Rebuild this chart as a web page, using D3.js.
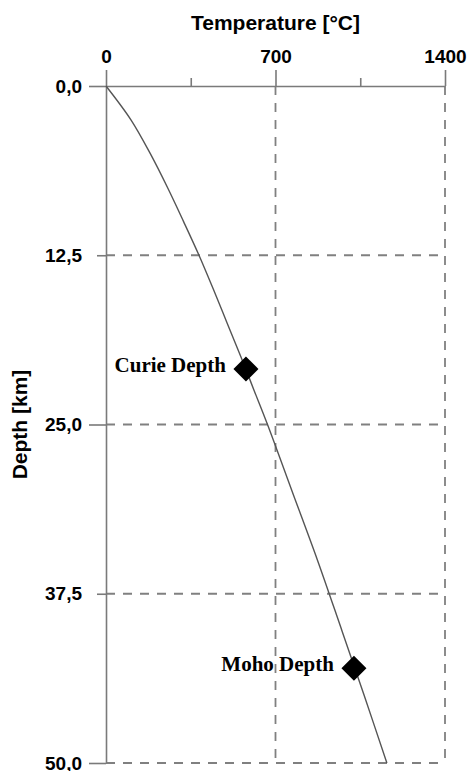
<!DOCTYPE html>
<html>
<head>
<meta charset="utf-8">
<script src="https://cdn.jsdelivr.net/npm/d3@7"></script>
<style>
	body { margin: 0; background: #fff; }
	svg { display: block; }
	.axis text { font-family: "Liberation Sans", Arial, sans-serif; font-weight: bold; font-size: 19px; fill: #000; }
	.axis path, .axis line { stroke: #7a7a7a; stroke-width: 1.6; }
	.grid line { stroke: #808080; stroke-width: 1.8; stroke-dasharray: 9,8; }
	.title { font-family: "Liberation Sans", Arial, sans-serif; font-weight: bold; font-size: 21px; }
	.marker text { font-family: "Liberation Serif", "Times New Roman", serif; font-weight: bold; font-size: 21px; }
</style>
</head>
<body>
<script>
// geotherm
const depth = [0, 2.5, 5, 7.5, 10, 12.5, 15, 17.5, 20, 22.5, 25, 30, 35, 40, 45, 50];
const temperature = [0, 103, 183, 254, 320, 384, 443, 500, 557, 612, 667, 770, 873, 970, 1066, 1160];

const markerLabels = ["Curie Depth", "Moho Depth"];
const markerDepth = [20.9, 43.0];
const markerTemperature = [578, 1024];

const tempTicks = [0, 350, 700, 1050, 1400];
const tempLabels = ["0", "", "700", "", "1400"];
const depthTicks = [0, 12.5, 25, 37.5, 50];
const depthLabels = ["0,0", "12,5", "25,0", "37,5", "50,0"];

const width = 469, height = 771;
const margin = { top: 86, right: 24, bottom: 8, left: 106 };
const innerWidth = width - margin.left - margin.right;
const innerHeight = height - margin.top - margin.bottom;

const x = d3.scaleLinear().domain([0, 1400]).range([0, innerWidth]);
const y = d3.scaleLinear().domain([0, 50]).range([0, innerHeight]);

let svg = d3.select("body")
	.append("svg")
		.attr("width", width)
		.attr("height", height);

let chart = svg.append("g")
	.attr("transform", `translate(${margin.left}, ${margin.top})`);

// dashed grid
let grid = chart.append("g").attr("class", "grid");
grid.selectAll("line.v")
	.data([700, 1400])
	.enter()
	.append("line")
		.attr("class", "v")
		.attr("x1", d => x(d))
		.attr("x2", d => x(d))
		.attr("y1", 0)
		.attr("y2", innerHeight);
grid.selectAll("line.h")
	.data([12.5, 25, 37.5, 50])
	.enter()
	.append("line")
		.attr("class", "h")
		.attr("x1", 0)
		.attr("x2", innerWidth)
		.attr("y1", d => y(d))
		.attr("y2", d => y(d));

// top axis
let axisX = chart.append("g")
	.attr("class", "axis x")
	.call(d3.axisTop(x)
		.tickValues(tempTicks)
		.tickSize(16)
		.tickSizeOuter(0)
		.tickPadding(7)
		.tickFormat((d, i) => tempLabels[i]));
axisX.selectAll("g.tick line")
	.attr("y2", (d, i) => tempLabels[i] ? -16 : -8);

// left axis
let axisY = chart.append("g")
	.attr("class", "axis y")
	.call(d3.axisLeft(y)
		.tickValues(depthTicks)
		.tickSize(17)
		.tickSizeOuter(0)
		.tickPadding(7)
		.tickFormat((d, i) => depthLabels[i]));
axisY.selectAll("g.tick line")
	.attr("x2", (d, i) => i % 2 ? -9 : -17);

svg.append("text")
	.attr("class", "title")
	.attr("x", margin.left + x(700))
	.attr("y", 30)
	.attr("text-anchor", "middle")
	.text("Temperature [°C]");

svg.append("text")
	.attr("class", "title")
	.attr("transform", `translate(27, ${margin.top + y(25)}) rotate(-90)`)
	.attr("text-anchor", "middle")
	.text("Depth [km]");

// geotherm
const line = d3.line()
	.x((d, i) => x(temperature[i]))
	.y(d => y(d))
	.curve(d3.curveCatmullRom);

chart.append("path")
	.attr("d", line(depth))
	.attr("fill", "none")
	.attr("stroke", "#555")
	.attr("stroke-width", 1.4);

// markers
let markers = chart.selectAll("g.marker")
	.data(markerLabels)
	.enter()
	.append("g")
		.attr("class", "marker")
		.attr("transform", (d, i) => `translate(${x(markerTemperature[i])}, ${y(markerDepth[i])})`);
markers.append("path")
	.attr("d", d3.symbol(d3.symbolSquare, 313))
	.attr("transform", "rotate(45)")
	.attr("fill", "#000");
markers.append("text")
	.attr("x", -20)
	.attr("y", 3)
	.attr("text-anchor", "end")
	.text(d => d);
</script>
</body>
</html>
